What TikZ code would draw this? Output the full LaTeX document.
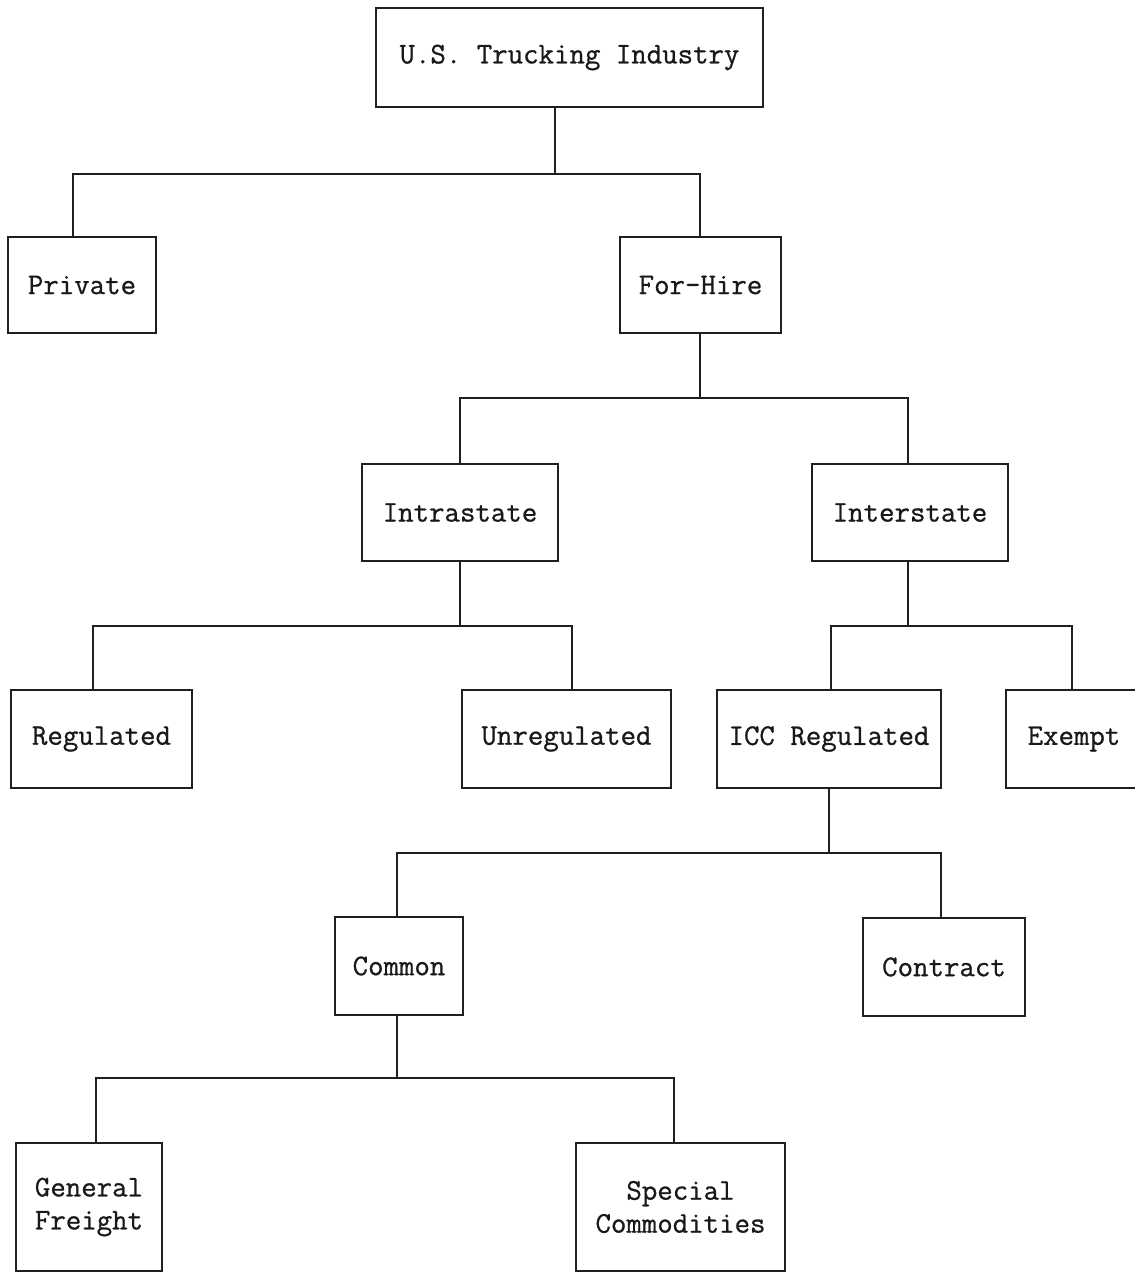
\documentclass[tikz,border=0pt]{standalone}
\usepackage{fontspec}
\newfontfamily\twfont[FakeBold=0.8]{Latin Modern Mono}
\begin{document}
\begin{tikzpicture}[x=1pt,y=-1pt,
  box/.style={draw=black!88, line width=2.4pt, inner sep=0pt, outer sep=0pt,
    font=\twfont\fontsize{30}{33}\selectfont, align=center, text=black!90},
  conn/.style={draw=black!88, line width=2.4pt}]
\useasboundingbox[fill=white] (0,0) rectangle (1135,1272);
% boxes
\node[box, minimum width=387pt, minimum height=99pt] (us) at (569.5,57.5) {U.S. Trucking Industry};
\node[box, minimum width=148pt, minimum height=96pt] (priv) at (82,285) {Private};
\node[box, minimum width=161pt, minimum height=96pt] (hire) at (700.5,285) {For-Hire};
\node[box, minimum width=196pt, minimum height=97pt] (intra) at (460,512.5) {Intrastate};
\node[box, minimum width=196pt, minimum height=97pt] (inter) at (910,512.5) {Interstate};
\node[box, minimum width=181pt, minimum height=98pt] (reg) at (101.5,739) {Regulated};
\node[box, minimum width=209pt, minimum height=98pt] (unreg) at (566.5,739) {Unregulated};
\node[box, minimum width=224pt, minimum height=98pt] (icc) at (829,739) {ICC Regulated};
\node[box, minimum width=136pt, minimum height=98pt] (exempt) at (1074,739) {Exempt};
\node[box, minimum width=128pt, minimum height=98pt] (common) at (399,966) {Common};
\node[box, minimum width=162pt, minimum height=98pt] (contract) at (944,967) {Contract};
\node[box, minimum width=146pt, minimum height=128pt] (gf) at (89,1207) {General\\Freight};
\node[box, minimum width=209pt, minimum height=128pt] (sc) at (680.5,1207) {Special\\Commodities};
% bus coordinates
\coordinate (j1) at (555,174); \coordinate (a1) at (73,174); \coordinate (c1) at (700,174);
\coordinate (j2) at (700,398); \coordinate (a2) at (460,398); \coordinate (c2) at (908,398);
\coordinate (j3) at (460,626); \coordinate (a3) at (93,626); \coordinate (c3) at (572,626);
\coordinate (j4) at (908,626); \coordinate (a4) at (831,626); \coordinate (c4) at (1072,626);
\coordinate (j5) at (829,853); \coordinate (a5) at (397,853); \coordinate (c5) at (941,853);
\coordinate (j6) at (397,1078); \coordinate (a6) at (96,1078); \coordinate (c6) at (674,1078);
% connectors
\draw[conn] (us.south -| j1) -- (j1);
\draw[conn] (priv.north -| a1) -- (a1) -- (c1) -- (hire.north -| c1);
\draw[conn] (hire.south -| j2) -- (j2);
\draw[conn] (intra.north -| a2) -- (a2) -- (c2) -- (inter.north -| c2);
\draw[conn] (intra.south -| j3) -- (j3);
\draw[conn] (reg.north -| a3) -- (a3) -- (c3) -- (unreg.north -| c3);
\draw[conn] (inter.south -| j4) -- (j4);
\draw[conn] (icc.north -| a4) -- (a4) -- (c4) -- (exempt.north -| c4);
\draw[conn] (icc.south -| j5) -- (j5);
\draw[conn] (common.north -| a5) -- (a5) -- (c5) -- (contract.north -| c5);
\draw[conn] (common.south -| j6) -- (j6);
\draw[conn] (gf.north -| a6) -- (a6) -- (c6) -- (sc.north -| c6);
\end{tikzpicture}
\end{document}
